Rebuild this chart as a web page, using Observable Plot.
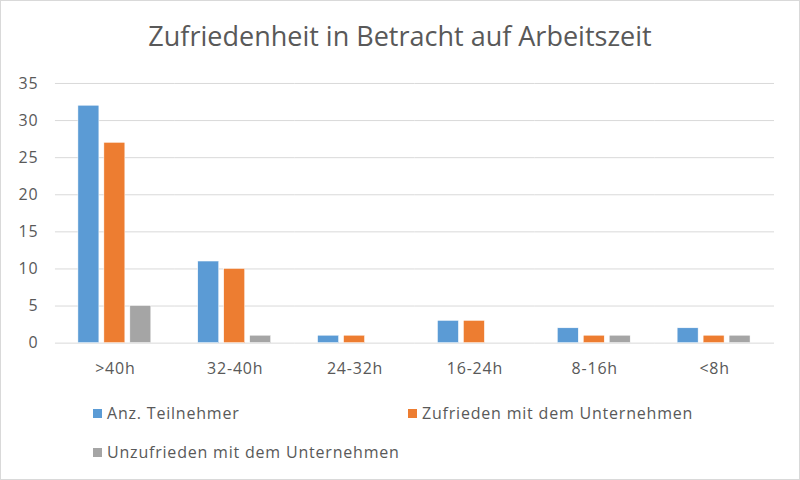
<!DOCTYPE html>
<html>
<head>
<meta charset="utf-8">
<script src="https://cdn.jsdelivr.net/npm/d3@7"></script>
<script src="https://cdn.jsdelivr.net/npm/@observablehq/plot@0.6"></script>
<style>
  html, body { margin: 0; padding: 0; background: #fff; }
  #wrap { position: relative; width: 798px; height: 478px; border: 1px solid #D9D9D9; background: #fff; overflow: hidden; font-family: "Open Sans", sans-serif; color: #595959; }
  #title { position: absolute; top: 16px; left: 0; width: 100%; text-align: center; font-size: 27px; }
  #chart { position: absolute; top: 59px; left: -1px; }
  #chart svg text { letter-spacing: 0.8px; }
  .leg { position: absolute; font-size: 16px; letter-spacing: 0.8px; display: flex; align-items: center; white-space: nowrap; }
  .sw { width: 9px; height: 9px; margin-right: 5px; display: inline-block; }
</style>
</head>
<body>
<div id="wrap">
  <div id="title">Zufriedenheit in Betracht auf Arbeitszeit</div>
  <div id="chart"></div>
  <div id="legend"></div>
</div>
<script>
const categories = [">40h", "32-40h", "24-32h", "16-24h", "8-16h", "<8h"];
const seriesNames = ["Anz. Teilnehmer", "Zufrieden mit dem Unternehmen", "Unzufrieden mit dem Unternehmen"];
const teilnehmer = [32, 11, 1, 3, 2, 2];
const zufrieden = [27, 10, 1, 3, 1, 1];
const unzufrieden = [5, 1, 0, 0, 1, 1];
const colors = ["#5B9BD5", "#ED7D31", "#A5A5A5"];
const yTicks = [0, 5, 10, 15, 20, 25, 30, 35];

const seriesValues = [teilnehmer, zufrieden, unzufrieden];
const data = [];
categories.forEach((c, i) => {
  seriesNames.forEach((s, j) => {
    data.push({cat: c, series: s, value: seriesValues[j][i]});
  });
});

const chart = Plot.plot({
  width: 800,
  height: 330,
  marginLeft: 54,
  marginRight: 25,
  marginTop: 23,
  marginBottom: 47,
  style: {fontFamily: "Open Sans, sans-serif", fontSize: "16px", color: "#595959", background: "transparent"},
  fx: {domain: categories, paddingInner: 0, paddingOuter: 0, label: null, axis: "bottom", tickSize: 0, tickPadding: 20},
  x: {domain: seriesNames, paddingInner: 0.19, paddingOuter: 0.876, axis: null},
  y: {domain: [0, 35], ticks: yTicks, label: null, tickSize: 0, tickPadding: 17},
  color: {domain: seriesNames, range: colors},
  marks: [
    Plot.ruleY(yTicks, {stroke: "#D9D9D9", strokeWidth: 1}),
    Plot.barY(data, {fx: "cat", x: "series", y: "value", fill: "series", stroke: "#fff", strokeWidth: 0.5})
  ]
});
document.getElementById("chart").appendChild(chart);

const legendPos = [[92, 401], [407, 401], [92, 440]];
const legend = document.getElementById("legend");
seriesNames.forEach((s, i) => {
  const d = document.createElement("div");
  d.className = "leg";
  d.style.left = legendPos[i][0] + "px";
  d.style.top = legendPos[i][1] + "px";
  d.innerHTML = `<span class="sw" style="background:${colors[i]}"></span>`;
  d.appendChild(document.createTextNode(s));
  legend.appendChild(d);
});
</script>
</body>
</html>
